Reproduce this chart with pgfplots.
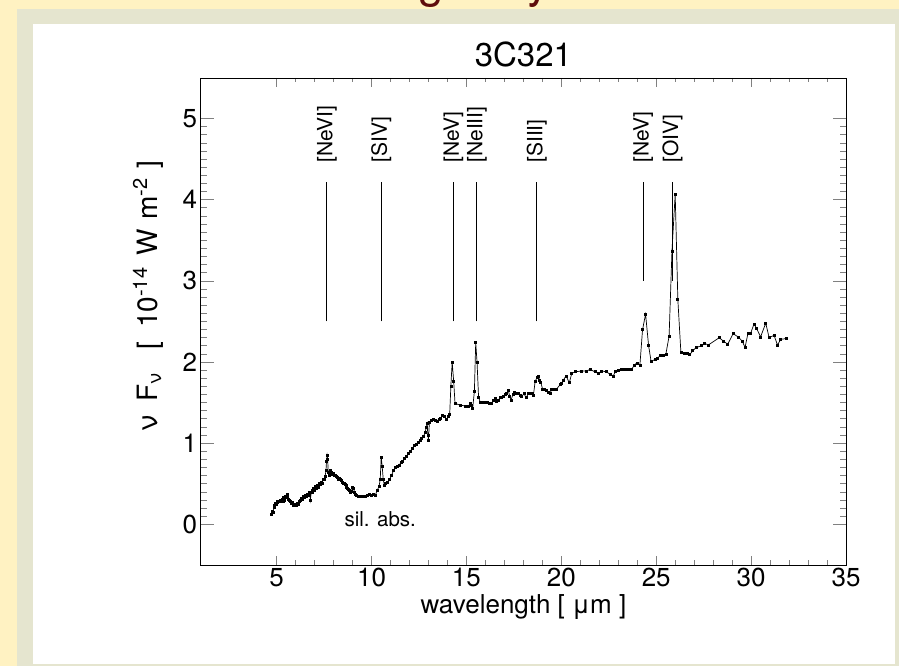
\documentclass[border=0pt]{standalone}
\usepackage{fontspec}
\setmainfont{TeX Gyre Heros}
\usepackage{pgfplots}
\pgfplotsset{compat=1.18}
\definecolor{bgyellow}{RGB}{255,242,194}
\definecolor{bggrey}{RGB}{229,229,207}
\definecolor{titlered}{RGB}{95,12,12}

\pgfplotstableread{
x y
4.74 0.13
4.78 0.16
4.82 0.15
4.86 0.21
4.90 0.24
4.94 0.26
4.98 0.25
5.02 0.28
5.06 0.27
5.10 0.29
5.14 0.28
5.18 0.30
5.22 0.28
5.26 0.30
5.30 0.31
5.34 0.29
5.38 0.33
5.42 0.30
5.46 0.35
5.50 0.33
5.54 0.37
5.58 0.34
5.62 0.31
5.66 0.30
5.70 0.29
5.74 0.28
5.78 0.26
5.82 0.27
5.86 0.25
5.90 0.24
5.95 0.25
6.00 0.23
6.05 0.24
6.10 0.26
6.15 0.25
6.20 0.28
6.25 0.30
6.30 0.32
6.35 0.31
6.40 0.34
6.45 0.33
6.50 0.36
6.55 0.34
6.60 0.37
6.65 0.36
6.70 0.40
6.75 0.37
6.78 0.30
6.82 0.39
6.86 0.42
6.90 0.40
6.95 0.44
7.00 0.42
7.05 0.47
7.10 0.45
7.15 0.48
7.20 0.46
7.25 0.50
7.30 0.49
7.35 0.52
7.40 0.51
7.45 0.55
7.50 0.56
7.55 0.59
7.60 0.66
7.63 0.78
7.66 0.85
7.69 0.80
7.72 0.64
7.76 0.60
7.80 0.62
7.85 0.66
7.90 0.64
7.95 0.62
8.00 0.63
8.05 0.61
8.10 0.60
8.15 0.59
8.20 0.58
8.25 0.56
8.30 0.57
8.35 0.55
8.40 0.54
8.45 0.52
8.50 0.51
8.55 0.50
8.60 0.49
8.65 0.48
8.70 0.46
8.75 0.45
8.80 0.43
8.85 0.42
8.90 0.40
8.95 0.41
9.00 0.46
9.05 0.45
9.10 0.40
9.15 0.37
9.20 0.36
9.30 0.35
9.40 0.35
9.50 0.34
9.60 0.35
9.70 0.35
9.80 0.36
9.90 0.37
10.00 0.36
10.10 0.37
10.20 0.36
10.30 0.42
10.40 0.47
10.46 0.56
10.51 0.83
10.56 0.72
10.62 0.55
10.68 0.48
10.75 0.50
10.85 0.52
10.95 0.55
11.05 0.60
11.15 0.66
11.25 0.70
11.35 0.71
11.45 0.73
11.55 0.76
11.65 0.78
11.75 0.81
11.85 0.84
11.95 0.87
12.05 0.90
12.15 0.94
12.25 0.97
12.35 0.99
12.45 1.01
12.55 1.03
12.65 1.06
12.75 1.09
12.82 1.13
12.88 1.19
12.93 1.24
12.97 1.10
13.00 1.04
13.05 1.26
13.15 1.28
13.25 1.29
13.35 1.28
13.45 1.27
13.55 1.30
13.65 1.31
13.75 1.34
13.85 1.33
13.95 1.29
14.05 1.33
14.12 1.36
14.18 1.70
14.25 2.00
14.33 1.76
14.40 1.49
14.67 1.47
14.93 1.46
15.10 1.45
15.19 1.49
15.25 1.47
15.33 1.43
15.42 1.64
15.49 2.24
15.56 2.00
15.64 1.57
15.72 1.51
15.85 1.50
15.98 1.50
16.10 1.50
16.22 1.49
16.34 1.49
16.42 1.53
16.51 1.55
16.60 1.52
16.68 1.53
16.77 1.56
16.86 1.57
16.95 1.58
17.04 1.60
17.12 1.62
17.21 1.65
17.28 1.58
17.35 1.53
17.45 1.60
17.53 1.63
17.63 1.61
17.74 1.61
17.83 1.59
17.92 1.58
18.04 1.61
18.14 1.56
18.26 1.61
18.35 1.61
18.47 1.62
18.53 1.59
18.62 1.76
18.72 1.81
18.79 1.82
18.86 1.78
18.92 1.75
19.02 1.66
19.10 1.66
19.19 1.655
19.32 1.63
19.40 1.615
19.49 1.66
19.60 1.66
19.76 1.67
19.93 1.72
20.02 1.74
20.11 1.78
20.25 1.83
20.42 1.745
20.55 1.86
20.72 1.88
21.07 1.89
21.34 1.89
21.51 1.91
21.77 1.88
21.95 1.86
22.13 1.89
22.39 1.88
22.56 1.85
22.74 1.83
22.86 1.89
23.00 1.90
23.15 1.91
23.30 1.91
23.45 1.91
23.60 1.91
23.70 1.91
23.84 1.96
23.98 1.99
24.14 1.96
24.28 2.40
24.44 2.59
24.60 2.20
24.73 2.01
24.93 2.03
25.05 2.04
25.20 2.08
25.35 2.08
25.51 2.10
25.68 2.32
25.83 3.37
26.00 4.07
26.14 2.77
26.30 2.12
26.47 2.11
26.63 2.11
26.76 2.09
26.93 2.14
27.10 2.18
27.39 2.20
27.56 2.23
27.74 2.21
28.32 2.30
28.53 2.26
28.77 2.22
29.05 2.35
29.32 2.31
29.53 2.26
29.68 2.18
29.84 2.36
29.98 2.355
30.15 2.47
30.30 2.41
30.50 2.31
30.77 2.48
30.95 2.30
31.21 2.33
31.39 2.21
31.56 2.28
31.86 2.29
}\spectrum

\newcommand{\sups}[1]{\raisebox{10pt}{\fontsize{20}{22}\selectfont #1}}
\newcommand{\subs}[1]{\raisebox{-4pt}{\fontsize{19}{22}\selectfont #1}}

\begin{document}
\begin{tikzpicture}
\path[use as bounding box] (0pt,0pt) rectangle (899pt,666pt);
\begin{scope}
\clip (0pt,0pt) rectangle (899pt,666pt);
\fill[bgyellow] (0pt,0pt) rectangle (899pt,666pt);
\fill[bggrey] (17pt,0pt) rectangle (899pt,657pt);
\fill[white] (33pt,2pt) rectangle (895pt,642pt);
\node[anchor=base west, inner sep=0, text=titlered, font=\fontsize{46}{50}\selectfont] at (418pt,668pt) {galaxy};
\end{scope}

\node[anchor=base, inner sep=0, font=\fontsize{33}{38}\selectfont] at (523.4pt,599pt) {3C321};

\begin{axis}[
  at={(200.7pt,101pt)}, anchor=south west,
  scale only axis, width=645.3pt, height=487pt,
  xmin=1, xmax=35, ymin=-0.5, ymax=5.5,
  xtick={5,10,...,35}, ytick={0,1,...,5},
  minor x tick num=4, minor y tick num=9,
  tick align=inside,
  axis line style={line width=0.9pt},
  xtick style={line width=0.8pt,/pgfplots/major tick length=9pt,/pgfplots/minor tick length=4.5pt},
  ytick style={line width=0.8pt,/pgfplots/major tick length=13pt,/pgfplots/minor tick length=6.5pt},
  /pgf/number format/assume math mode=true,
  tick label style={font=\fontsize{26}{30}\selectfont},
  clip=false,
]
\addplot[black, line width=0.7pt, mark=square*, mark size=1.0pt] table[x=x,y=y] {\spectrum};

\draw[line width=0.9pt] (axis cs:7.65,2.5) -- (axis cs:7.65,4.22);
\draw[line width=0.9pt] (axis cs:10.51,2.5) -- (axis cs:10.51,4.22);
\draw[line width=0.9pt] (axis cs:14.32,2.5) -- (axis cs:14.32,4.22);
\draw[line width=0.9pt] (axis cs:15.55,2.5) -- (axis cs:15.55,4.22);
\draw[line width=0.9pt] (axis cs:18.71,2.5) -- (axis cs:18.71,4.22);
\draw[line width=0.9pt] (axis cs:24.32,3.0) -- (axis cs:24.32,4.22);
\draw[line width=0.9pt] (axis cs:25.86,3.0) -- (axis cs:25.86,4.22);

\tikzset{linelab/.style={rotate=90, anchor=west, inner sep=0, font=\fontsize{21}{24}\selectfont}}
\node[linelab] at (axis cs:7.65,4.455) {[NeVI]};
\node[linelab] at (axis cs:10.51,4.455) {[SIV]};
\node[linelab] at (axis cs:14.32,4.455) {[NeV]};
\node[linelab] at (axis cs:15.55,4.455) {[NeIII]};
\node[linelab] at (axis cs:18.71,4.455) {[SIII]};
\node[linelab] at (axis cs:24.32,4.455) {[NeV]};
\node[linelab] at (axis cs:25.86,4.455) {[OIV]};

\node[anchor=base, inner sep=0, font=\fontsize{20.5}{24}\selectfont] at (axis cs:10.46,-0.02) {sil. abs.};
\end{axis}

\node[anchor=base, inner sep=0, font=\fontsize{26}{30}\selectfont] at (523.4pt,52pt) {wavelength [ μm ]};
\node[anchor=base, rotate=90, inner sep=0, font=\fontsize{28}{32}\selectfont] at (157pt,370pt) {ν\hspace{14pt}F\subs{ν}\hspace{24pt}[\hspace{14pt}10\sups{-14}\hspace{12pt}W\hspace{10pt}m\sups{-2}\hspace{10pt}]};
\end{tikzpicture}
\end{document}
